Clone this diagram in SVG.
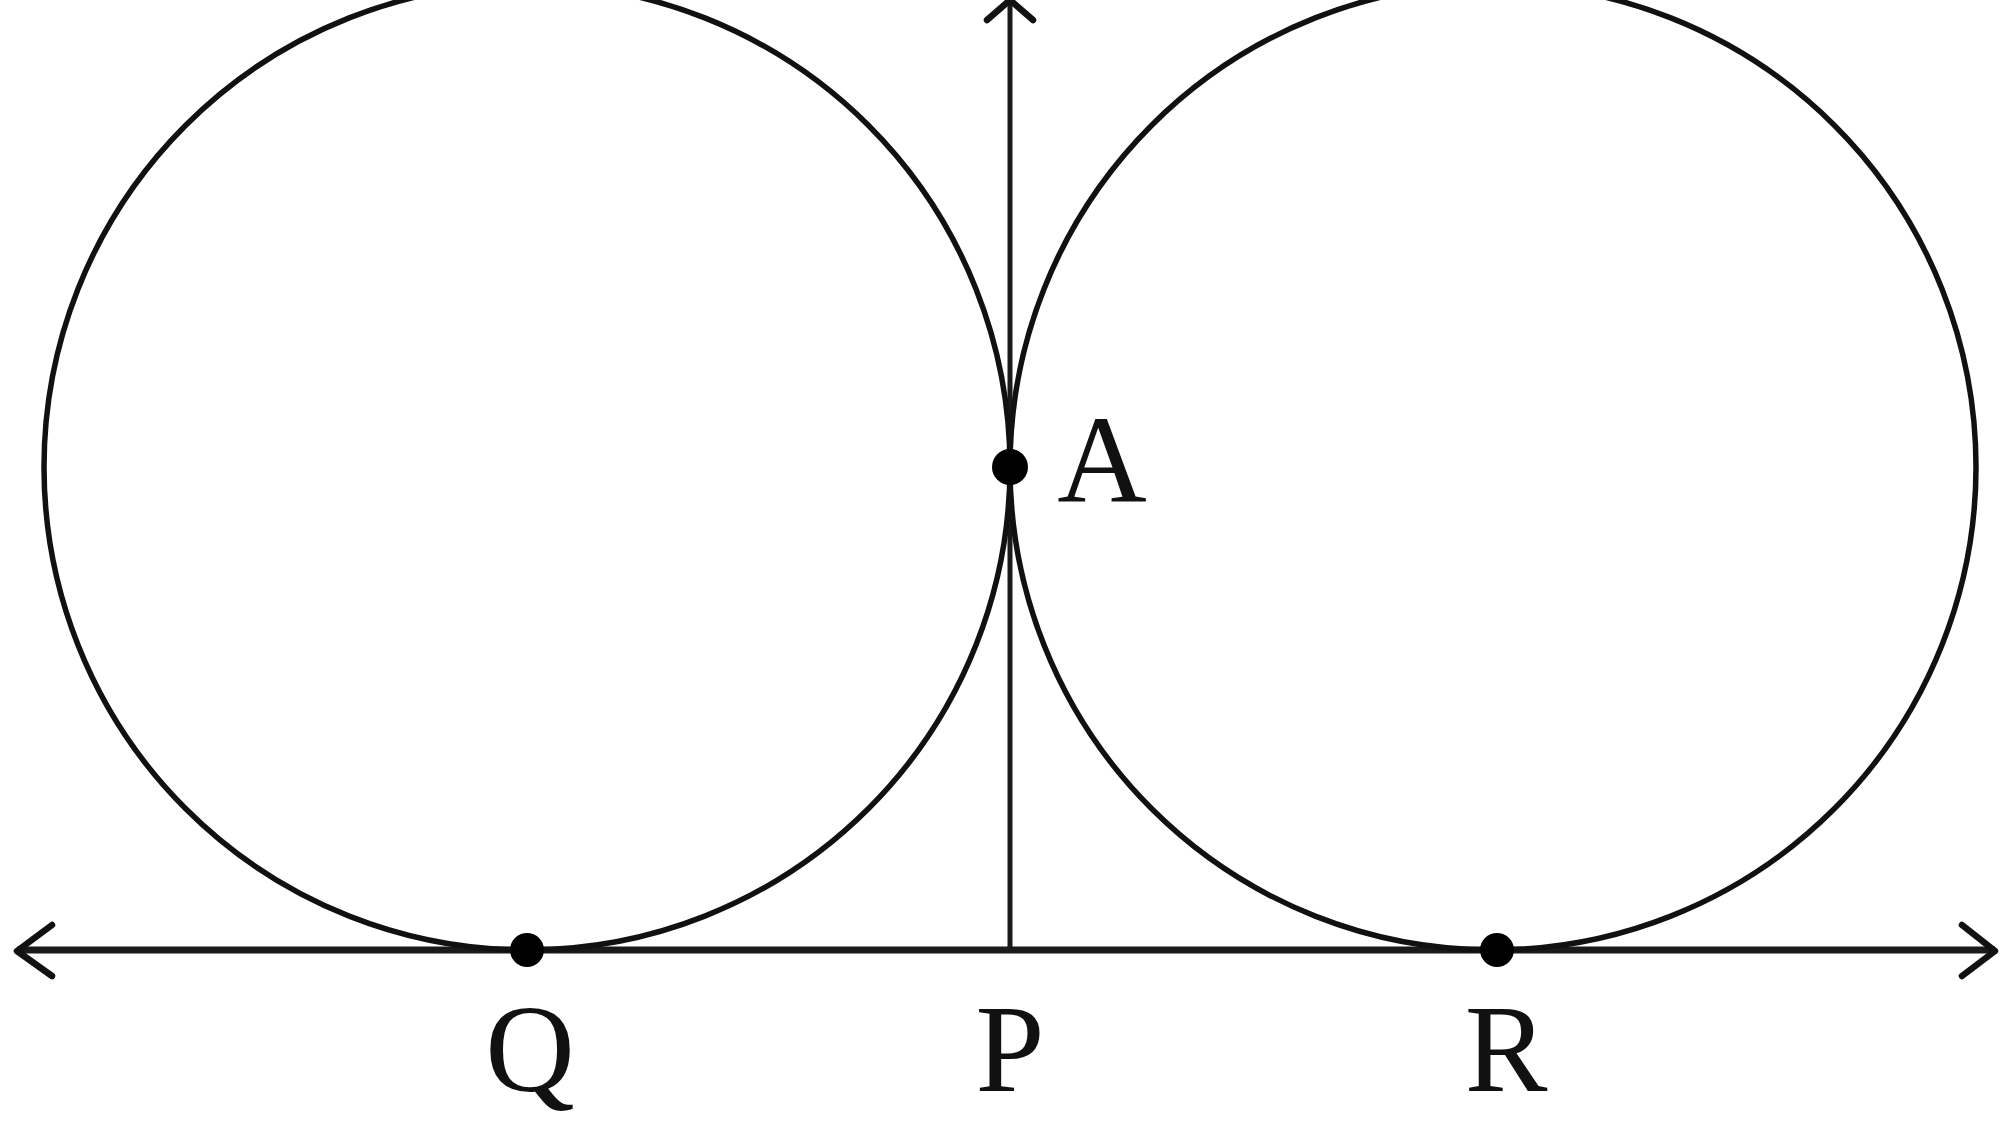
<svg xmlns="http://www.w3.org/2000/svg" width="2000" height="1148" viewBox="0 0 2000 1148">
<style>
.c{fill:none;stroke:#111;stroke-width:5.5}
.ax{fill:none;stroke:#1a1a1a;stroke-width:5}
.hd{fill:none;stroke:#111;stroke-width:6.5;stroke-linecap:round;stroke-linejoin:round}
.pt{fill:#000}
.lb{font-family:"Liberation Serif","Times New Roman",serif;font-size:124px;fill:#111;text-anchor:middle}
</style>
<rect width="2000" height="1148" fill="#fff"/>
<g id="connectors">
<line class="ax" x1="17" y1="950" x2="1995" y2="950" style="stroke-width:7"/>
<polyline class="hd" points="52,925 17,951 52,976"/>
<polyline class="hd" points="1962,925 1995,951 1962,976"/>
<line class="ax" x1="1010" y1="950" x2="1010" y2="2"/>
<polyline class="hd" points="987,20 1010,0 1033,20"/>
</g>
<g id="circle-left"><circle class="c" cx="527" cy="467" r="483"/></g>
<g id="circle-right"><circle class="c" cx="1493" cy="467" r="483"/></g>
<g id="A"><circle class="pt" cx="1010" cy="467" r="18"/><text class="lb" x="1102" y="502">A</text></g>
<g id="Q"><circle class="pt" cx="527" cy="950" r="17"/><text class="lb" x="530" y="1091">Q</text></g>
<g id="P"><text class="lb" x="1010" y="1091">P</text></g>
<g id="R"><circle class="pt" cx="1497" cy="950" r="17"/><text class="lb" x="1506" y="1091">R</text></g>
</svg>
